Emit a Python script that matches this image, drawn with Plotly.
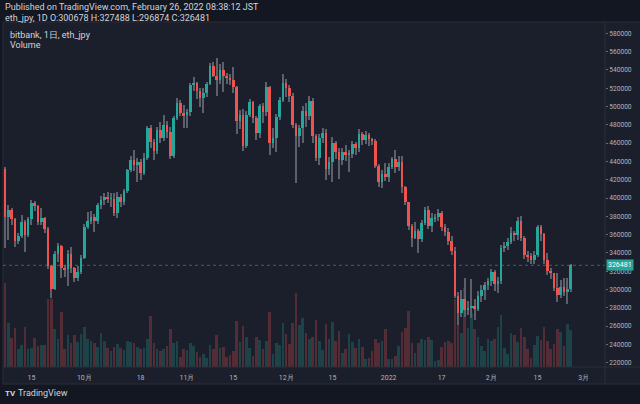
import pandas as pd
import plotly.graph_objects as go

# bitbank eth_jpy daily candles, 2021-09-07 .. 2022-02-25 (prices in thousand JPY)
dates = pd.date_range("2021-09-07", "2022-02-25", freq="D")

opens = [
    431.7, 379.6, 386.9, 376.7, 353.4, 358.5, 373.8, 359.6, 376.7, 394.9,
    391.3, 374.1, 377.8, 366.5, 325.7, 300.5, 338.5, 347.9, 323.9, 322.0,
    338.5, 323.9, 312.9, 319.5, 334.1, 368.0, 375.3, 378.9, 375.3, 392.4,
    398.2, 400.8, 399.0, 399.3, 383.3, 401.5, 396.0, 407.7, 430.6, 441.2,
    436.0, 439.7, 427.7, 444.0, 476.2, 461.5, 451.4, 474.3, 465.2, 479.8,
    471.8, 446.2, 487.1, 504.2, 492.6, 490.7, 493.7, 523.5, 525.4, 517.0,
    509.0, 514.4, 524.3, 544.6, 533.7, 529.0, 539.9, 533.7, 530.8, 528.6,
    521.6, 484.5, 490.7, 456.8, 490.7, 505.3, 487.1, 470.7, 500.5, 493.7,
    521.0, 459.8, 465.2, 488.9, 507.1, 525.4, 519.9, 511.8, 479.8, 467.8,
    476.2, 495.1, 489.6, 506.0, 467.8, 443.4, 465.2, 470.7, 431.4, 439.7,
    459.8, 450.7, 441.2, 450.7, 447.0, 448.1, 458.7, 454.3, 469.9, 463.4,
    468.9, 464.5, 462.3, 435.3, 417.2, 426.2, 423.3, 434.2, 442.3, 434.2,
    439.7, 411.7, 395.3, 369.7, 356.6, 363.9, 355.2, 373.0, 386.9, 369.7,
    377.8, 379.6, 383.3, 368.0, 362.5, 353.0, 342.4, 293.2, 274.0, 289.6,
    277.6, 280.1, 282.3, 278.7, 293.2, 299.4, 304.9, 309.3, 319.5, 305.7,
    309.3, 345.0, 347.5, 352.3, 361.4, 359.6, 375.3, 356.0, 337.7, 336.6,
    332.2, 337.7, 368.6, 360.3, 332.2, 320.2, 317.7, 301.3, 294.0, 303.1,
    297.1, 300.678,
]
highs = [
    433.5, 392.4, 389.0, 378.0, 362.0, 381.4, 376.0, 379.0, 398.0, 397.0,
    392.0, 388.7, 379.0, 368.0, 327.0, 342.0, 351.0, 349.0, 327.0, 343.0,
    346.8, 325.0, 326.0, 338.0, 372.0, 385.0, 386.0, 383.0, 394.0, 402.0,
    405.0, 407.0, 405.0, 405.0, 407.0, 404.0, 410.0, 432.0, 446.0, 452.5,
    444.0, 443.0, 449.0, 479.0, 480.0, 464.0, 478.0, 483.4, 490.7, 484.0,
    478.0, 490.0, 509.0, 507.0, 501.6, 497.0, 526.0, 532.6, 527.0, 520.0,
    520.0, 527.0, 548.0, 549.0, 552.7, 546.1, 549.0, 537.0, 535.0, 543.5,
    522.0, 496.0, 497.0, 495.0, 508.0, 506.0, 490.0, 503.0, 504.0, 527.0,
    522.0, 476.2, 492.0, 510.0, 536.0, 530.0, 523.0, 515.0, 482.0, 480.0,
    501.0, 503.5, 511.5, 509.0, 470.0, 470.0, 476.0, 475.0, 445.0, 467.0,
    462.0, 455.0, 455.0, 458.0, 452.0, 462.3, 461.0, 475.4, 472.0, 473.0,
    471.0, 466.0, 464.0, 437.0, 431.0, 437.9, 438.0, 445.0, 452.5, 446.0,
    446.0, 413.0, 396.0, 372.0, 374.0, 366.0, 376.0, 390.5, 391.0, 384.0,
    383.0, 387.6, 386.0, 372.0, 367.0, 358.0, 346.1, 297.0, 299.0, 312.2,
    287.0, 311.4, 290.0, 298.0, 305.0, 308.0, 313.0, 322.4, 321.0, 314.0,
    349.0, 352.0, 356.0, 368.0, 364.0, 379.6, 380.0, 358.0, 342.0, 340.0,
    342.0, 371.0, 370.0, 362.0, 339.6, 324.0, 318.0, 317.7, 310.0, 313.0,
    313.0, 327.488,
]
lows = [
    345.7, 354.0, 371.0, 346.8, 350.0, 356.0, 341.3, 357.0, 370.0, 386.0,
    370.0, 370.0, 362.0, 322.0, 290.4, 299.0, 330.0, 312.9, 314.0, 304.0,
    318.0, 308.0, 309.0, 317.0, 333.0, 366.0, 372.0, 363.1, 372.0, 388.0,
    392.0, 394.0, 390.0, 380.0, 378.0, 390.0, 392.0, 405.0, 428.0, 430.0,
    418.0, 420.0, 425.0, 441.0, 455.0, 441.5, 448.0, 460.0, 462.0, 466.0,
    443.0, 444.0, 485.0, 490.0, 476.2, 477.0, 490.0, 517.0, 508.0, 500.0,
    492.6, 510.0, 523.0, 532.0, 512.0, 525.0, 516.0, 525.0, 523.0, 515.0,
    470.0, 475.0, 451.7, 455.0, 488.0, 482.0, 463.0, 466.0, 482.0, 490.0,
    447.0, 455.0, 450.7, 485.0, 505.0, 510.0, 505.0, 476.0, 416.0, 456.0,
    460.0, 478.0, 485.0, 460.0, 440.0, 436.0, 460.0, 420.0, 425.0, 417.0,
    443.0, 421.0, 436.0, 440.0, 428.0, 444.0, 447.0, 450.0, 458.0, 459.0,
    457.0, 458.0, 433.0, 412.0, 411.0, 419.0, 418.0, 432.0, 427.0, 430.0,
    405.0, 392.0, 365.0, 346.8, 355.0, 340.0, 352.3, 371.0, 366.0, 362.5,
    374.0, 375.0, 364.0, 358.0, 349.0, 338.0, 291.0, 261.3, 270.0, 270.0,
    272.0, 269.0, 267.0, 276.0, 286.0, 288.0, 300.0, 304.0, 298.0, 295.8,
    306.0, 341.0, 343.0, 350.0, 353.0, 354.0, 353.0, 333.0, 330.0, 328.0,
    328.0, 335.0, 353.0, 328.0, 316.0, 312.0, 298.0, 286.7, 291.0, 293.0,
    284.0, 296.874,
]
closes = [
    379.6, 386.9, 376.7, 353.4, 358.5, 373.8, 359.6, 376.7, 394.9, 391.3,
    374.1, 377.8, 366.5, 325.7, 300.5, 338.5, 347.9, 323.9, 322.0, 338.5,
    323.9, 312.9, 319.5, 334.1, 368.0, 375.3, 378.9, 375.3, 392.4, 398.2,
    400.8, 399.0, 399.3, 383.3, 401.5, 396.0, 407.7, 430.6, 441.2, 436.0,
    439.7, 427.7, 444.0, 476.2, 461.5, 451.4, 474.3, 465.2, 479.8, 471.8,
    446.2, 487.1, 504.2, 492.6, 490.7, 493.7, 523.5, 525.4, 517.0, 509.0,
    514.4, 524.3, 544.6, 533.7, 529.0, 539.9, 533.7, 530.8, 528.6, 521.6,
    484.5, 490.7, 456.8, 490.7, 505.3, 487.1, 470.7, 500.5, 493.7, 521.0,
    459.8, 465.2, 488.9, 507.1, 525.4, 519.9, 511.8, 479.8, 467.8, 476.2,
    495.1, 489.6, 506.0, 467.8, 443.4, 465.2, 470.7, 431.4, 439.7, 459.8,
    450.7, 441.2, 450.7, 447.0, 448.1, 458.7, 454.3, 469.9, 463.4, 468.9,
    464.5, 462.3, 435.3, 417.2, 426.2, 423.3, 434.2, 442.3, 434.2, 439.7,
    411.7, 395.3, 369.7, 356.6, 363.9, 355.2, 373.0, 386.9, 369.7, 377.8,
    379.6, 383.3, 368.0, 362.5, 353.0, 342.4, 293.2, 274.0, 289.6, 277.6,
    280.1, 282.3, 278.7, 293.2, 299.4, 304.9, 309.3, 319.5, 305.7, 309.3,
    345.0, 347.5, 352.3, 361.4, 359.6, 375.3, 356.0, 337.7, 336.6, 332.2,
    337.7, 368.6, 360.3, 332.2, 320.2, 317.7, 301.3, 294.0, 303.1, 297.1,
    300.678, 326.481,
]
# volume, hundreds of ETH
volumes = [
    251, 133, 86, 118, 53, 65, 120, 53, 57, 86, 63, 65, 65, 203, 203, 113, 85, 165, 55, 95,
    73, 95, 75, 98, 121, 83, 77, 73, 61, 101, 77, 57, 48, 61, 69, 58, 51, 78, 75, 73,
    61, 53, 57, 85, 153, 73, 55, 48, 55, 63, 113, 73, 78, 30, 55, 51, 71, 63, 45, 30,
    38, 28, 65, 55, 95, 57, 60, 30, 35, 48, 138, 75, 123, 90, 57, 33, 90, 81, 53, 77,
    165, 40, 71, 65, 133, 100, 69, 133, 221, 125, 148, 103, 83, 90, 140, 77, 51, 130, 85, 136,
    78, 108, 43, 53, 100, 76, 58, 85, 61, 25, 27, 48, 83, 71, 78, 113, 25, 23, 33, 63,
    105, 118, 168, 73, 43, 71, 83, 81, 89, 81, 17, 21, 61, 75, 78, 71, 203, 143, 103, 238,
    118, 163, 113, 91, 63, 48, 85, 78, 85, 121, 155, 58, 38, 101, 95, 75, 118, 90, 53, 28,
    65, 93, 81, 121, 78, 53, 68, 113, 105, 63, 128, 111,
]

price_ticks = list(range(220000, 580001, 20000))
date_ticks = ["2021-09-15", "2021-10-01", "2021-10-18", "2021-11-01", "2021-11-15", "2021-12-01",
              "2021-12-15", "2022-01-01", "2022-01-17", "2022-02-01", "2022-02-15", "2022-03-01"]
date_labels = ["15", "10月", "18", "11月", "15", "12月", "15", "2022", "17", "2月", "15", "3月"]

UP, DOWN = "#26a69a", "#ef5350"
DAY = 86400000

o = [v * 1000 for v in opens]
h = [v * 1000 for v in highs]
l = [v * 1000 for v in lows]
c = [v * 1000 for v in closes]
up = [cc >= oo for oo, cc in zip(o, c)]

# plot area in page pixels
L, R, T, B = 3, 605, 22, 367
W, H = 640, 404

def px(x):
    return (x - L) / (R - L)

def py(y):
    return (B - y) / (B - T)

fig = go.Figure()
fig.add_bar(x=dates, y=[v * 100 for v in volumes], yaxis="y", width=0.8 * DAY,
            marker=dict(color=["rgba(38,166,154,0.27)" if u else "rgba(239,83,80,0.27)" for u in up],
                        line_width=0))
fig.add_bar(x=dates, base=l, y=[hh - ll for hh, ll in zip(h, l)], yaxis="y2", width=0.3 * DAY,
            marker=dict(color="#5d606b", line_width=0))
fig.add_bar(x=dates, base=[min(a, b) for a, b in zip(o, c)],
            y=[max(abs(b - a), 600) for a, b in zip(o, c)], yaxis="y2", width=0.78 * DAY,
            marker=dict(color=[UP if u else DOWN for u in up], line_width=0))

last = c[-1]
fig.add_shape(type="line", xref="paper", yref="y2", x0=0, x1=1, y0=last, y1=last,
              line=dict(color="rgba(38,166,154,0.6)", width=1, dash="dot"))

# pane background and borders
fig.add_shape(type="rect", xref="paper", yref="paper", x0=px(3), x1=px(641), y0=py(384), y1=py(22),
              fillcolor="#1b1f2b", line=dict(color="#2a2e39", width=1), layer="below")
fig.add_shape(type="line", xref="paper", yref="paper", x0=1, x1=1, y0=py(384), y1=1,
              line=dict(color="#2a2e39", width=1))
fig.add_shape(type="line", xref="paper", yref="paper", x0=0, x1=px(641), y0=0, y1=0,
              line=dict(color="#2a2e39", width=1))

fig.add_annotation(x=px(606), y=last, xref="paper", yref="y2", xanchor="left", yanchor="middle",
                   text="326481", showarrow=False, bgcolor=UP, borderpad=1,
                   font=dict(color="white", size=7))

texts = [
    (3, 7, "Published on TradingView.com, February 26, 2022 08:38:12 JST", 9, "#d1d4dc"),
    (3, 18, "eth_jpy, 1D O:300678 H:327488 L:296874 C:326481", 9, "#d1d4dc"),
    (8, 35, "bitbank, 1日, eth_jpy", 9, "#d1d4dc"),
    (8, 45, "Volume", 9, "#d1d4dc"),
    (16, 393, "TradingView", 9, "#d1d4dc"),
    (3, 393, "<b>TV</b>", 8, "#d1d4dc"),
]
for x, y, t, s, col in texts:
    fig.add_annotation(x=px(x), y=py(y), xref="paper", yref="paper", xanchor="left", yanchor="middle",
                       text=t, showarrow=False, font=dict(size=s, color=col))

fig.update_layout(
    width=W, height=H,
    margin=dict(l=L, r=W - R, t=T, b=H - B),
    paper_bgcolor="#131722", plot_bgcolor="rgba(0,0,0,0)",
    font=dict(family="Roboto, DejaVu Sans, sans-serif", color="#b2b5be"),
    barmode="overlay", bargap=0, showlegend=False, hovermode=False,
    xaxis=dict(type="date",
               range=[dates[0] - pd.Timedelta(days=0.6), dates[-1] + pd.Timedelta(days=10.4)],
               tickvals=date_ticks, ticktext=date_labels, tickfont=dict(size=7, color="#b2b5be"),
               showgrid=False, zeroline=False, ticks="outside", ticklen=4, tickcolor="rgba(0,0,0,0)",
               showline=False),
    yaxis=dict(range=[0, 103500], visible=False, fixedrange=True),
    yaxis2=dict(overlaying="y", side="right", range=[215300, 592350], tickvals=price_ticks,
                tickformat="d", tickfont=dict(size=6.6, color="#b2b5be"), showgrid=False,
                zeroline=False, ticks="outside", ticklen=2, tickcolor="#6a6d78", showline=False),
)

# page body margin would shift the 640x404 figure out of the window
fig.write_html("out.html", config={"displayModeBar": False},
               post_script="document.body.style.margin='0';document.body.style.overflow='hidden';")
